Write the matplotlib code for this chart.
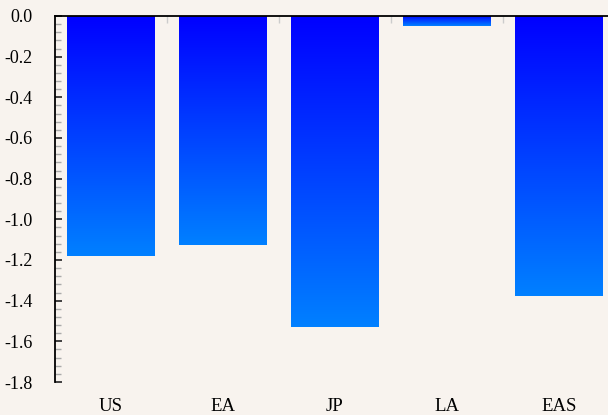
import matplotlib.pyplot as plt
import numpy as np
from matplotlib.colors import LinearSegmentedColormap
from matplotlib.ticker import MultipleLocator

regions = ["US", "EA", "JP", "LA", "EAS"]
values = [-1.18, -1.125, -1.53, -0.05, -1.375]
yticks = [-1.8, -1.6, -1.4, -1.2, -1.0, -0.8, -0.6, -0.4, -0.2, 0.0]
ytick_labels = ["-1.8", "-1.6", "-1.4", "-1.2", "-1.0", "-0.8", "-0.6", "-0.4", "-0.2", "0.0"]

bg = "#f8f3ee"
plt.rcParams['font.family'] = ['Liberation Serif', 'DejaVu Serif']

fig = plt.figure(figsize=(6.08, 4.15), dpi=100, facecolor=bg)
ax = fig.add_axes([55 / 608, 1 - 382 / 415, 560 / 608, 366 / 415])
ax.set_facecolor(bg)

x = np.arange(len(regions))
bars = ax.bar(x, values, width=0.777, color="none", edgecolor="none")

# blue -> light blue gradient, top to bottom of each bar
cmap = LinearSegmentedColormap.from_list("bluegrad", ["#0000ff", "#0080ff"])
grad = np.linspace(0, 1, 256).reshape(-1, 1)
for b in bars:
    x0, w = b.get_x(), b.get_width()
    y0, h = b.get_y(), b.get_height()
    top, bottom = max(y0, y0 + h), min(y0, y0 + h)
    ax.imshow(grad, cmap=cmap, aspect="auto", extent=(x0, x0 + w, bottom, top),
              origin="upper", zorder=2)

ax.set_xlim(-0.5, len(regions) - 0.5)
ax.set_ylim(-1.8, 0.0)

for side in ["right", "bottom"]:
    ax.spines[side].set_visible(False)
ax.spines["top"].set_linewidth(1.3)
ax.spines["left"].set_linewidth(1.3)
ax.spines["top"].set_zorder(5)

ax.yaxis.set_minor_locator(MultipleLocator(0.04))
ax.set_yticks(yticks)
ax.set_yticklabels(ytick_labels)
ax.tick_params(axis="y", which="major", direction="in", length=5, width=1.2,
               color="#222222", labelsize=13, pad=16)
ax.tick_params(axis="y", which="minor", direction="in", length=4, width=1,
               color="#aaaaaa")

# category separators hang from the zero line
ax.xaxis.set_ticks_position("top")
ax.set_xticks(np.arange(0.5, len(regions) - 0.5, 1.0))
ax.set_xticklabels([])
ax.tick_params(axis="x", which="major", direction="in", length=5, width=1,
               color="#cccccc")

# region names sit below the plot, baseline about 29 px under the axis floor
trans = ax.get_xaxis_transform()
for xi, name in zip(x, regions):
    ax.annotate(name, xy=(xi, 0), xycoords=trans, xytext=(0, -29),
                textcoords="offset pixels", ha="center", va="baseline",
                fontsize=13.5, annotation_clip=False)

fig.savefig("out.png", dpi=100, facecolor=bg)
